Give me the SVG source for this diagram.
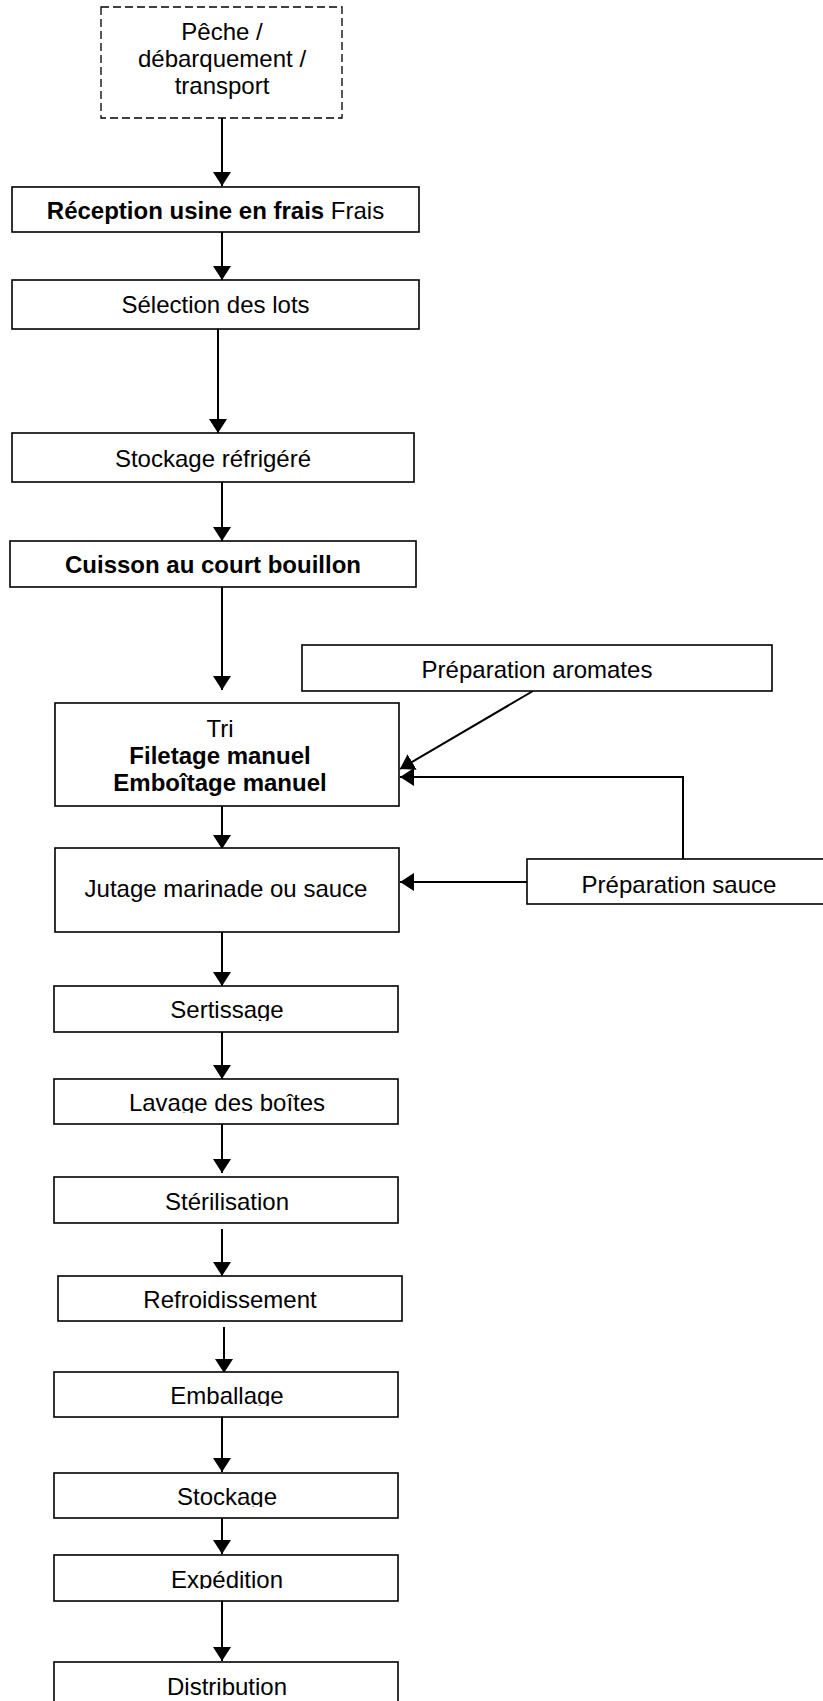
<svg xmlns="http://www.w3.org/2000/svg" width="823" height="1701" viewBox="0 0 823 1701">
<style>
.box{fill:#fff;stroke:#000;stroke-width:1.6}
.dash{fill:#fff;stroke:#000;stroke-width:1.3;stroke-dasharray:8,4}
text{font-family:"Liberation Sans",Arial,sans-serif;font-size:24px;fill:#000;text-anchor:middle}
.b{font-weight:bold}
.c{fill:none;stroke:#000;stroke-width:2}
</style>
<defs>
<marker id="ah" markerUnits="userSpaceOnUse" viewBox="0 0 14 18" refX="14" refY="9" markerWidth="14" markerHeight="18" orient="auto">
<path d="M0,0 L14,9 L0,18 z" fill="#000"/>
</marker>
<clipPath id="cSert" clipPathUnits="userSpaceOnUse"><rect x="54" y="986" width="344" height="35"/></clipPath>
<clipPath id="cLav" clipPathUnits="userSpaceOnUse"><rect x="54" y="1079" width="344" height="34"/></clipPath>
<clipPath id="cEmb" clipPathUnits="userSpaceOnUse"><rect x="54" y="1372" width="344" height="34"/></clipPath>
<clipPath id="cSto" clipPathUnits="userSpaceOnUse"><rect x="54" y="1473" width="344" height="34"/></clipPath>
<clipPath id="cExp" clipPathUnits="userSpaceOnUse"><rect x="54" y="1555" width="344" height="34"/></clipPath>
</defs>
<g id="connectors">
<path class="c" d="M222,118 V186" marker-end="url(#ah)"/>
<path class="c" d="M222,232 V280" marker-end="url(#ah)"/>
<path class="c" d="M218,329 V433" marker-end="url(#ah)"/>
<path class="c" d="M222,482 V541" marker-end="url(#ah)"/>
<path class="c" d="M222,587 V690" marker-end="url(#ah)"/>
<path class="c" d="M533,691 L400,769" marker-end="url(#ah)"/>
<path class="c" d="M683,859 V777 H400" marker-end="url(#ah)"/>
<path class="c" d="M222,806 V849" marker-end="url(#ah)"/>
<path class="c" d="M527,882 H400" marker-end="url(#ah)"/>
<path class="c" d="M222,932 V986" marker-end="url(#ah)"/>
<path class="c" d="M222,1032 V1079" marker-end="url(#ah)"/>
<path class="c" d="M222,1124 V1173" marker-end="url(#ah)"/>
<path class="c" d="M222,1229 V1276" marker-end="url(#ah)"/>
<path class="c" d="M224,1327 V1373" marker-end="url(#ah)"/>
<path class="c" d="M222,1417 V1472" marker-end="url(#ah)"/>
<path class="c" d="M222,1518 V1554" marker-end="url(#ah)"/>
<path class="c" d="M222,1601 V1661" marker-end="url(#ah)"/>
</g>
<g id="peche"><rect class="dash" x="101" y="7" width="241" height="111"/>
<text x="222" y="40">Pêche /</text><text x="222" y="67">débarquement /</text><text x="222" y="94">transport</text></g>
<g id="reception"><rect class="box" x="12" y="187" width="407" height="45"/>
<text x="215.5" y="219"><tspan class="b">Réception usine en frais</tspan> Frais</text></g>
<g id="selection"><rect class="box" x="12" y="280" width="407" height="49"/>
<text x="215.5" y="313">Sélection des lots</text></g>
<g id="stockage-refrigere"><rect class="box" x="12" y="433" width="402" height="49"/>
<text x="213" y="467">Stockage réfrigéré</text></g>
<g id="cuisson"><rect class="box" x="10" y="541" width="406" height="46"/>
<text class="b" x="213" y="573">Cuisson au court bouillon</text></g>
<g id="aromates"><rect class="box" x="302" y="645" width="470" height="46"/>
<text x="537" y="678">Préparation aromates</text></g>
<g id="tri"><rect class="box" x="55" y="703" width="344" height="103"/>
<text x="220" y="737">Tri</text><text class="b" x="220" y="764">Filetage manuel</text><text class="b" x="220" y="791">Emboîtage manuel</text></g>
<g id="jutage"><rect class="box" x="55" y="848" width="344" height="84"/>
<text x="226" y="897">Jutage marinade ou sauce</text></g>
<g id="sauce"><rect class="box" x="527" y="859" width="310" height="45"/>
<text x="679" y="893">Préparation sauce</text></g>
<g id="sertissage"><rect class="box" x="54" y="986" width="344" height="46"/>
<text x="227" y="1018" clip-path="url(#cSert)">Sertissage</text></g>
<g id="lavage"><rect class="box" x="54" y="1079" width="344" height="45"/>
<text x="227" y="1111" clip-path="url(#cLav)">Lavage des boîtes</text></g>
<g id="sterilisation"><rect class="box" x="54" y="1177" width="344" height="46"/>
<text x="227" y="1210">Stérilisation</text></g>
<g id="refroidissement"><rect class="box" x="58" y="1276" width="344" height="45"/>
<text x="230" y="1308">Refroidissement</text></g>
<g id="emballage"><rect class="box" x="54" y="1372" width="344" height="45"/>
<text x="227" y="1404" clip-path="url(#cEmb)">Emballage</text></g>
<g id="stockage"><rect class="box" x="54" y="1473" width="344" height="45"/>
<text x="227" y="1505" clip-path="url(#cSto)">Stockage</text></g>
<g id="expedition"><rect class="box" x="54" y="1555" width="344" height="46"/>
<text x="227" y="1588" clip-path="url(#cExp)">Expédition</text></g>
<g id="distribution"><rect class="box" x="54" y="1662" width="344" height="50"/>
<text x="227" y="1695">Distribution</text></g>
</svg>
